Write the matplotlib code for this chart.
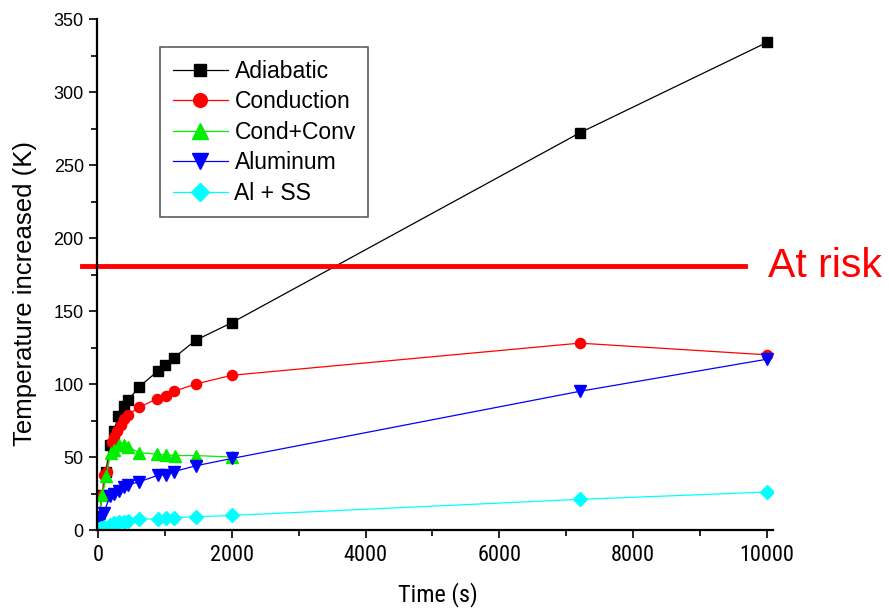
import matplotlib
matplotlib.use("Agg")
import matplotlib.pyplot as plt
from matplotlib.ticker import MultipleLocator
from matplotlib import font_manager

plt.rcParams['font.family'] = ['Liberation Sans', 'DejaVu Sans']
names = {f.name for f in font_manager.fontManager.ttflist}
narrow = 'Liberation Sans'
for cand in ['Liberation Sans Narrow', 'DejaVu Sans Condensed', 'Roboto Condensed']:
    if cand in names:
        narrow = cand
        break

adia_t = [10, 65, 120, 175, 239, 304, 389, 453, 613, 897, 1001, 1136, 1460, 2000, 7200, 10000]
adia_y = [8, 24, 40, 58, 68, 78, 85, 89, 98, 109, 113, 118, 130, 142, 272, 334]

cond_t = [10, 65, 90, 130, 205, 239, 289, 339, 389, 453, 613, 887, 1021, 1136, 1460, 2000, 7200, 10000]
cond_y = [8, 24, 38, 40, 60, 64, 68, 72, 76, 79, 84, 90, 92, 95, 100, 106, 128, 120]

conv_t = [10, 65, 124, 190, 239, 314, 389, 453, 613, 880, 1010, 1150, 1460, 2000]
conv_y = [8, 24, 37, 53, 55, 58, 58, 57, 53, 52, 51.5, 51, 51, 50]

alu_t = [10, 40, 90, 175, 239, 314, 389, 453, 613, 897, 1010, 1136, 1460, 2000, 7200, 10000]
alu_y = [5, 9, 12, 23, 25, 27, 29.5, 31, 33, 37.5, 38, 40, 44, 49, 95, 117]

alss_t = [10, 40, 90, 175, 239, 314, 389, 453, 613, 897, 1010, 1136, 1460, 2000, 7200, 10000]
alss_y = [0.5, 1.2, 2.3, 3.4, 4.6, 5.2, 5.7, 6.4, 7.3, 7.8, 8.2, 8.5, 9, 10, 21, 26]

risk_level = 181

fig = plt.figure(figsize=(8.89, 6.10), dpi=100)
ax = fig.add_axes([0.1091, 0.1311, 0.7604, 0.8377])

ax.plot(adia_t, adia_y, '-s', color='black', lw=0.9, ms=6.5, label='Adiabatic')
ax.plot(cond_t, cond_y, '-o', color='red', lw=0.9, ms=7.3, label='Conduction')
ax.plot(conv_t, conv_y, '-^', color='#00ee00', lw=0.9, ms=8.6, label='Cond+Conv')
ax.plot(alu_t, alu_y, '-v', color='blue', lw=0.9, ms=8.6, label='Aluminum')
ax.plot(alss_t, alss_y, '-D', color='cyan', lw=0.9, ms=7, label='Al + SS')

ax.axhline(risk_level, xmin=-0.022, xmax=0.959, color='red', lw=3.5, clip_on=False)
ax.text(0.993, risk_level, 'At risk', transform=ax.get_yaxis_transform(),
        color='red', fontsize=29.5, va='center', ha='left')

ax.set_xlim(-15, 10090)
ax.set_ylim(0, 350)
ax.xaxis.set_major_locator(MultipleLocator(2000))
ax.xaxis.set_minor_locator(MultipleLocator(1000))
ax.yaxis.set_major_locator(MultipleLocator(50))
ax.yaxis.set_minor_locator(MultipleLocator(25))
ax.tick_params(which='major', direction='out', length=6, width=1.2, labelsize=13)
ax.tick_params(which='minor', direction='out', length=4, width=1.2)
ax.tick_params(axis='x', which='major', labelsize=16, labelfontfamily=narrow, pad=5)
for s in ['top', 'right']:
    ax.spines[s].set_visible(False)
for s in ['left', 'bottom']:
    ax.spines[s].set_linewidth(1.6)

fig.text(438 / 889, 1 - 595 / 610, 'Time (s)', fontsize=17.5, family=narrow,
         ha='center', va='center')
fig.text(25 / 889, 1 - 293 / 610, 'Temperature increased (K)', fontsize=18.5,
         rotation=90, ha='center', va='center')

leg = ax.legend(loc='upper left', bbox_to_anchor=(160 / 889, 1 - 47 / 610),
                bbox_transform=fig.transFigure, borderaxespad=0, fontsize=16.5,
                frameon=True, fancybox=False, edgecolor='#333333',
                handlelength=2.4, handletextpad=0.3, labelspacing=0.33,
                borderpad=0.55, markerscale=1.35)
leg.get_frame().set_linewidth(1.2)

fig.savefig('out.png', dpi=100)
